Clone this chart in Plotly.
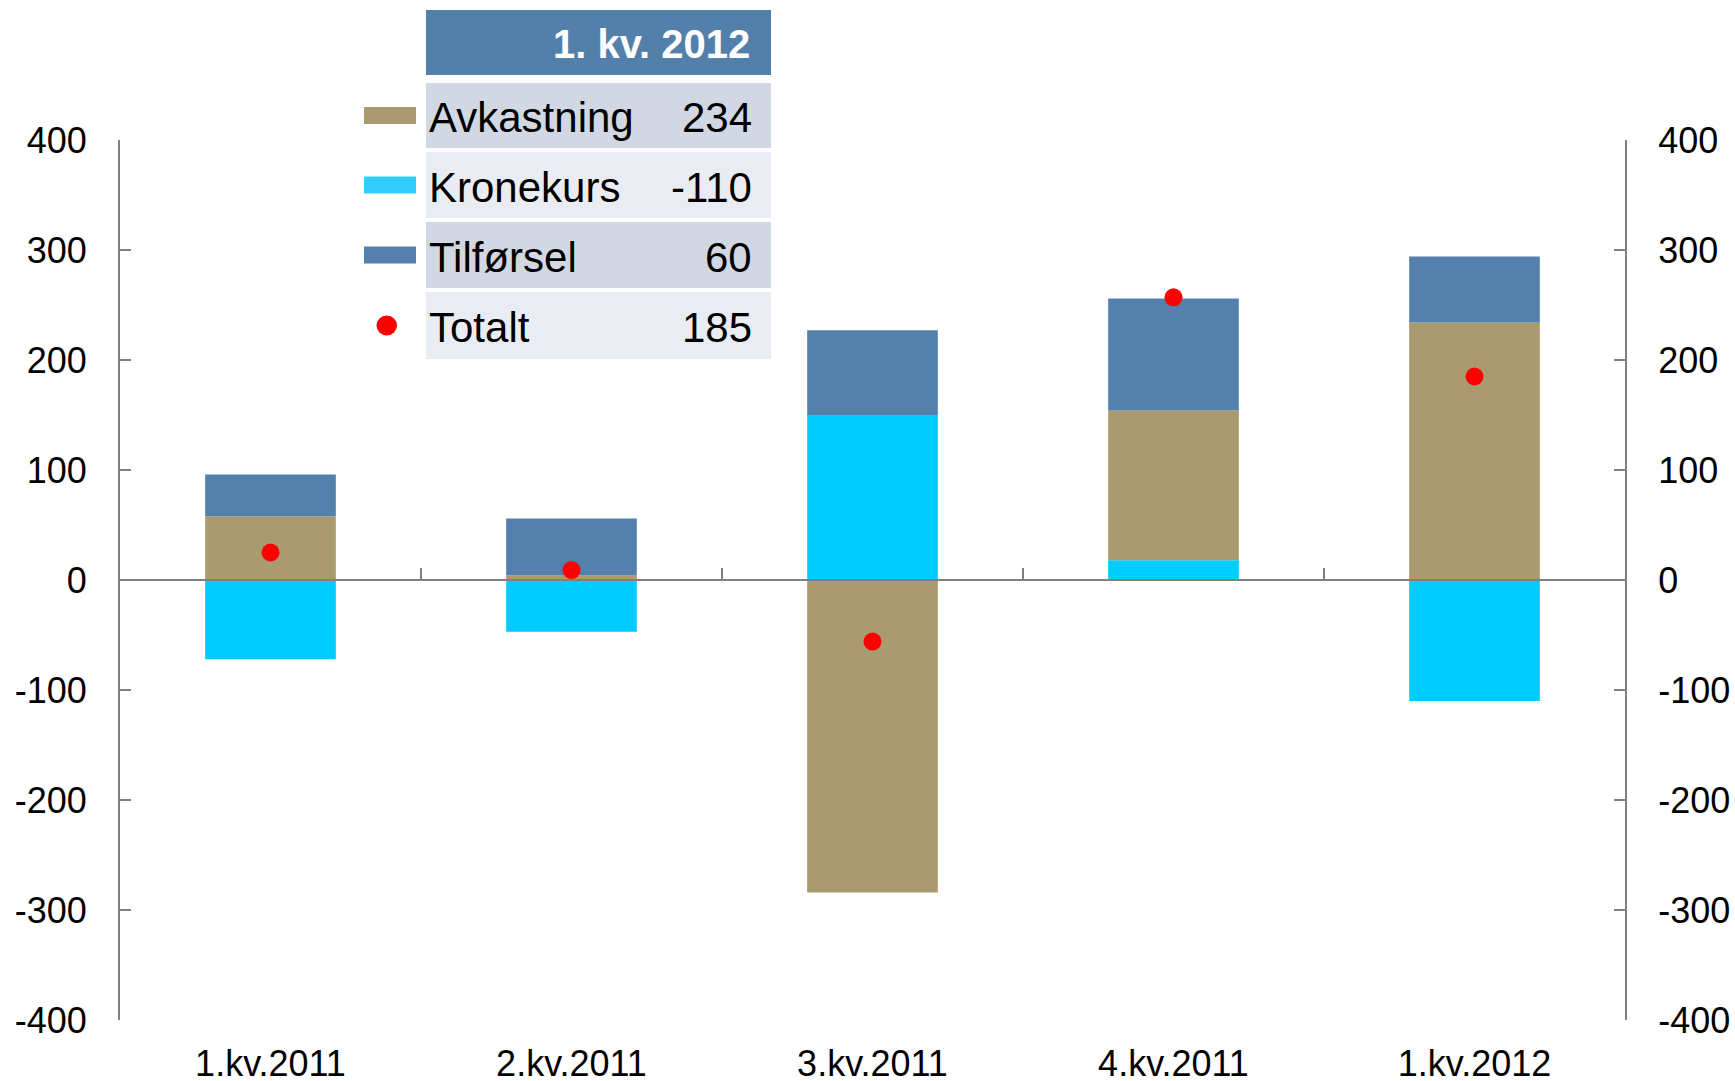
import plotly.graph_objects as go

# ---- data ----
categories = ["1.kv.2011", "2.kv.2011", "3.kv.2011", "4.kv.2011", "1.kv.2012"]
avkastning = [58, 4, -284, 136, 234]
kronekurs = [-72, -47, 150, 18, -110]
tilforsel = [38, 52, 77, 102, 60]
totalt = [25, 9, -56, 257, 185]
y_ticks = [-400, -300, -200, -100, 0, 100, 200, 300, 400]
y_ticktext = [str(v) for v in y_ticks]
legend_title = "1. kv. 2012"

# ---- style ----
C_AVK = "#a99b6f"
C_KRON = "#00ccff"
C_TILF = "#5381ac"
C_TOT = "#ff0000"
AXC = "#808080"
FONT = "Liberation Sans, Arial, sans-serif"

W, H = 1735, 1081
L, R, T, B = 120, 110, 140, 61


def px2x(px):
    return (px - L) / (W - L - R)


def py2y(py):
    return (H - B - py) / (H - T - B)


fig = go.Figure()
fig.add_trace(go.Bar(x=categories, y=kronekurs, name="Kronekurs", marker=dict(color=C_KRON, line=dict(width=0))))
fig.add_trace(go.Bar(x=categories, y=avkastning, name="Avkastning", marker=dict(color=C_AVK, line=dict(width=0))))
fig.add_trace(go.Bar(x=categories, y=tilforsel, name="Tilførsel", marker=dict(color=C_TILF, line=dict(width=0))))
fig.add_trace(go.Scatter(x=categories, y=totalt, name="Totalt", mode="markers",
                         marker=dict(color=C_TOT, size=18, line=dict(width=0))))
# helper traces so overlay axes are drawn
fig.add_trace(go.Scatter(x=[None], y=[None], xaxis="x2", yaxis="y", showlegend=False, hoverinfo="skip"))
fig.add_trace(go.Scatter(x=[None], y=[None], xaxis="x", yaxis="y2", showlegend=False, hoverinfo="skip"))

ycommon = dict(range=[-400, 400], tickvals=y_ticks, ticktext=y_ticktext, showline=True, linecolor=AXC,
               linewidth=2, ticks="inside", ticklen=11, tickwidth=2, tickcolor=AXC, showgrid=False,
               zeroline=False, tickfont=dict(size=36, color="black", family=FONT), ticklabelstandoff=24,
               automargin=False)

fig.update_layout(
    width=W, height=H,
    margin=dict(l=L, r=R, t=T, b=B, autoexpand=False),
    paper_bgcolor="white", plot_bgcolor="white",
    barmode="relative", bargap=0.566,
    showlegend=False,
    font=dict(family=FONT, color="black"),
    xaxis=dict(type="category", categoryorder="array", categoryarray=categories, range=[-0.5, 4.5],
               showline=False, ticks="", showgrid=False, zeroline=False, automargin=False,
               tickfont=dict(size=36, color="black", family=FONT), ticklabelstandoff=19),
    xaxis2=dict(overlaying="x", anchor="free", position=0.5, range=[-0.5, 4.5],
                tickvals=[0.5, 1.5, 2.5, 3.5], showticklabels=False, showline=True, linecolor=AXC,
                linewidth=2, ticks="inside", ticklen=11, tickwidth=2, tickcolor=AXC, showgrid=False,
                zeroline=False, automargin=False),
    yaxis=dict(side="left", **ycommon),
    yaxis2=dict(side="right", overlaying="y", anchor="x", **ycommon),
)

# ---- custom legend table ----
shapes = []
annotations = []
tx0, tx1 = 426, 771
shapes.append(dict(type="rect", xref="paper", yref="paper", x0=px2x(tx0), x1=px2x(tx1),
                   y0=py2y(75), y1=py2y(10), fillcolor="#5380ab", line=dict(width=0), layer="above"))
annotations.append(dict(text="<b>" + legend_title + "</b>", xref="paper", yref="paper", x=px2x(752),
                        y=py2y(44), xanchor="right", yanchor="middle", showarrow=False,
                        font=dict(size=40, color="white", family=FONT)))

rows = [
    ("Avkastning", avkastning[-1], C_AVK, "bar", 83, 148, "#d1d8e4"),
    ("Kronekurs", kronekurs[-1], "#33ccff", "bar", 152, 218, "#e9edf3"),
    ("Tilførsel", tilforsel[-1], C_TILF, "bar", 222, 288, "#d1d8e4"),
    ("Totalt", totalt[-1], C_TOT, "dot", 292, 359, "#e9edf3"),
]
for name, val, col, kind, r0, r1, bg in rows:
    shapes.append(dict(type="rect", xref="paper", yref="paper", x0=px2x(tx0), x1=px2x(tx1),
                       y0=py2y(r1), y1=py2y(r0), fillcolor=bg, line=dict(width=0), layer="above"))
    cy = (r0 + r1) / 2
    if kind == "bar":
        shapes.append(dict(type="rect", xref="paper", yref="paper", x0=px2x(364), x1=px2x(416),
                           y0=py2y(cy + 8.5), y1=py2y(cy - 8.5), fillcolor=col, line=dict(width=0),
                           layer="above"))
    else:
        shapes.append(dict(type="circle", xref="paper", yref="paper", x0=px2x(376.5), x1=px2x(397),
                           y0=py2y(cy + 10), y1=py2y(cy - 10), fillcolor=col, line=dict(width=0),
                           layer="above"))
    annotations.append(dict(text=name, xref="paper", yref="paper", x=px2x(427), y=py2y(cy + 2),
                            xanchor="left", yanchor="middle", showarrow=False,
                            font=dict(size=42, color="black", family=FONT)))
    annotations.append(dict(text=str(val), xref="paper", yref="paper", x=px2x(754), y=py2y(cy + 2),
                            xanchor="right", yanchor="middle", showarrow=False,
                            font=dict(size=42, color="black", family=FONT)))

fig.update_layout(shapes=shapes, annotations=annotations)

fig.write_html("out.html", config={"displayModeBar": False},
               post_script="document.body.style.margin='0';document.body.style.overflow='hidden';")
